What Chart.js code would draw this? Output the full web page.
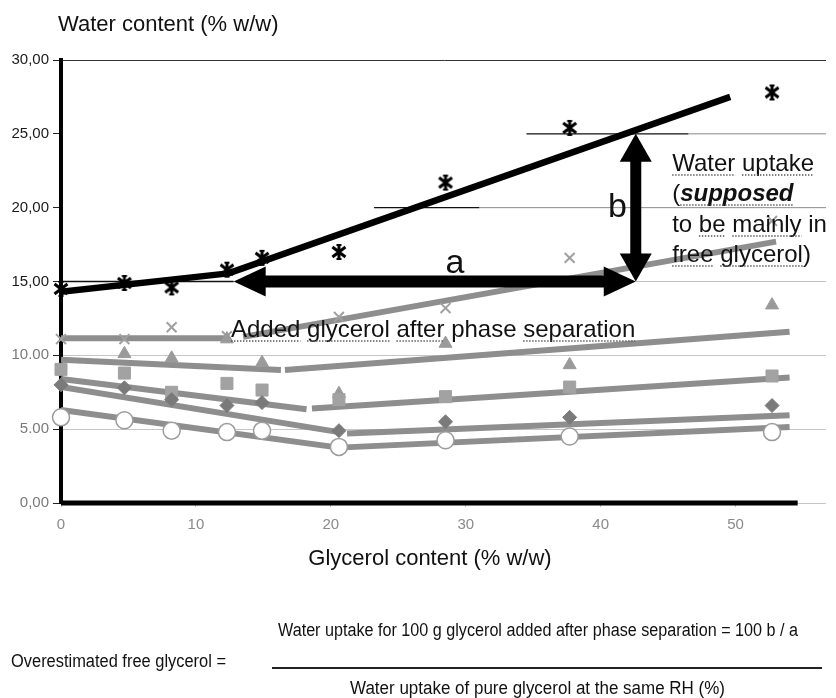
<!DOCTYPE html>
<html>
<head>
<meta charset="utf-8">
<script src="https://cdn.jsdelivr.net/npm/chart.js@4/dist/chart.umd.min.js"></script>
<style>
  html, body { margin: 0; padding: 0; background: #fff; }
  #wrap { position: relative; width: 836px; height: 698px; }
</style>
</head>
<body>
<div id="wrap"><canvas id="chart"></canvas></div>
<script>
// Glycerol content of the films (% w/w), shared by every measured series
const glycerol = [0, 4.7, 8.2, 12.3, 14.9, 20.6, 28.5, 37.7, 52.7];

// Water content (% w/w) measured at each humidity level
const waterAsterisk = [14.5, 14.9, 14.6, 15.8, 16.6, 17.0, 21.7, 25.4, 27.8];
const waterCross    = [11.1, 11.1, 11.9, 11.3, null, 12.6, 13.2, 16.6, 19.1];
const waterTriangle = [null, 10.1, 9.8, 11.1, 9.5, 7.4, 10.8, 9.35, 13.4];
const waterSquare   = [9.05, 8.8, 7.5, 8.1, 7.65, 7.0, 7.2, 7.85, 8.6];
const waterDiamond  = [8.0, 7.8, 7.0, 6.6, 6.8, 4.9, 5.5, 5.8, 6.6];
const waterCircle   = [5.8, 5.6, 4.9, 4.8, 4.9, 3.8, 4.25, 4.5, 4.8];

// Linear trends before / after phase separation, as [glycerol, water] pairs
const trendAsterisk = [[0, 14.3], [12.4, 15.55], [49.6, 27.5]];
const trendCrossA   = [[0, 11.15], [12.3, 11.15]];
const trendCrossB   = [[13.5, 11.25], [53.0, 17.7]];
const trendTriA     = [[0, 9.7], [16.3, 9.0]];
const trendTriB     = [[16.6, 9.0], [54.0, 11.6]];
const trendSquareA  = [[0, 8.4], [18.2, 6.35]];
const trendSquareB  = [[18.6, 6.4], [54.0, 8.5]];
const trendDiamondA = [[0, 7.85], [20.6, 4.8]];
const trendDiamondB = [[21.2, 4.7], [54.0, 5.95]];
const trendCircle   = [[0, 6.3], [20.6, 3.75], [54.0, 5.15]];

// Reading guides at constant water content
const guide25Dark  = [[34.5, 25], [46.5, 25]];
const guide25Light = [[46.5, 25], [56.7, 25]];
const guide20Dark  = [[23.2, 20], [31.0, 20]];
const guide20Light = [[31.0, 20], [56.7, 20]];
const guide15Dark  = [[0, 15], [12.8, 15]];
const guide15Light = [[42.6, 15], [56.7, 15]];
const baseLine     = [[0, 0], [54.6, 0]];

// "a": glycerol added after phase separation; "b": corresponding water uptake
const arrowAX = [12.8, 42.6];
const arrowAY = 15;
const arrowBX = 42.6;
const arrowBY = [15, 25];

// Axis ticks
const xTicks = [0, 10, 20, 30, 40, 50];
const yTicks = [0, 5, 10, 15, 20, 25, 30];
const yTickLabels = ['0,00', '5.00', '10.00', '15,00', '20,00', '25,00', '30,00'];
const X_MAX = 56.7;

const SANS = '"Liberation Sans", Arial, Helvetica, sans-serif';

function pts(xs, ys) {
  return xs.map((x, i) => ({ x, y: ys[i] })).filter(p => p.y !== null);
}
function seg(pairs) {
  return pairs.map(([x, y]) => ({ x, y }));
}
function lineSet(pairs, color, width, order, extra) {
  return Object.assign({
    type: 'line', data: seg(pairs), borderColor: color, borderWidth: width,
    pointRadius: 0, pointHoverRadius: 0, fill: false, tension: 0, order,
    borderCapStyle: 'butt', borderJoinStyle: 'round'
  }, extra || {});
}
function markerSet(ys, style, radius, bg, border, bw, order) {
  return {
    type: 'scatter', data: pts(glycerol, ys), pointStyle: style,
    pointRadius: radius, pointHoverRadius: radius, backgroundColor: bg,
    borderColor: border, borderWidth: bw, showLine: false, order, clip: false
  };
}

// Asterisk marker: X with a vertical bar and short caps
function makeAsterisk() {
  const c = document.createElement('canvas');
  c.width = 18; c.height = 18;
  const g = c.getContext('2d');
  g.strokeStyle = '#000';
  g.lineWidth = 3;
  g.beginPath();
  g.moveTo(2.5, 4); g.lineTo(15.5, 14);
  g.moveTo(15.5, 4); g.lineTo(2.5, 14);
  g.moveTo(9, 1.5); g.lineTo(9, 16.5);
  g.stroke();
  g.lineWidth = 2;
  g.beginPath();
  g.moveTo(6.5, 2); g.lineTo(11.5, 2);
  g.moveTo(6.5, 16); g.lineTo(11.5, 16);
  g.stroke();
  return c;
}

const TREND = '#8e8e8e';

const datasets = [
  // markers of the upper series (top layer)
  markerSet(waterAsterisk, makeAsterisk(), 9, '#000', '#000', 0, 1),
  lineSet(trendAsterisk, '#000', 6.5, 2),
  // measured points
  markerSet(waterCircle, 'circle', 8.5, '#ffffff', '#9c9c9c', 1.5, 3),
  markerSet(waterDiamond, 'rectRot', 7, '#7a7a7a', '#7a7a7a', 1, 4),
  markerSet(waterSquare, 'rect', 8.5, '#a2a2a2', '#a2a2a2', 1, 5),
  markerSet(waterTriangle, 'triangle', 7.5, '#9a9a9a', '#9a9a9a', 1, 6),
  markerSet(waterCross, 'crossRot', 7, '#a0a0a0', '#a0a0a0', 2, 7),
  // trend lines
  lineSet(trendCircle, TREND, 6, 10),
  lineSet(trendDiamondA, TREND, 6, 10),
  lineSet(trendDiamondB, TREND, 6, 10),
  lineSet(trendSquareA, TREND, 6, 10),
  lineSet(trendSquareB, TREND, 6, 10),
  lineSet(trendTriA, TREND, 6, 10),
  lineSet(trendTriB, TREND, 6, 10),
  lineSet(trendCrossA, TREND, 6, 10),
  lineSet(trendCrossB, TREND, 6, 10),
  // guides and axis base line
  lineSet(baseLine, '#000', 5, 20, { clip: false }),
  lineSet(guide25Dark, '#111', 1.3, 21),
  lineSet(guide25Light, '#8a8a8a', 1, 21),
  lineSet(guide20Dark, '#111', 1.3, 21),
  lineSet(guide20Light, '#8a8a8a', 1, 21),
  lineSet(guide15Dark, '#111', 1.3, 21),
  lineSet(guide15Light, '#c2c2c2', 1, 21)
];

function doubleArrow(ctx, x1, y1, x2, y2, shaft, headLen, headHalf) {
  const ang = Math.atan2(y2 - y1, x2 - x1);
  const len = Math.hypot(x2 - x1, y2 - y1);
  ctx.save();
  ctx.translate(x1, y1);
  ctx.rotate(ang);
  ctx.fillStyle = '#000';
  ctx.fillRect(headLen - 1, -shaft / 2, len - 2 * headLen + 2, shaft);
  ctx.beginPath();
  ctx.moveTo(0, 0); ctx.lineTo(headLen, -headHalf); ctx.lineTo(headLen, headHalf);
  ctx.closePath(); ctx.fill();
  ctx.beginPath();
  ctx.moveTo(len, 0); ctx.lineTo(len - headLen, -headHalf); ctx.lineTo(len - headLen, headHalf);
  ctx.closePath(); ctx.fill();
  ctx.restore();
}

function dotted(ctx, x1, x2, y) {
  ctx.save();
  ctx.strokeStyle = '#555';
  ctx.lineWidth = 1.4;
  ctx.setLineDash([1.4, 1.6]);
  ctx.beginPath();
  ctx.moveTo(x1, y); ctx.lineTo(x2, y);
  ctx.stroke();
  ctx.restore();
}

// Draws a line of text pieces; pieces flagged u get a dotted underline
function richLine(ctx, x, yBase, parts, baseFont) {
  let cx = x;
  ctx.textBaseline = 'alphabetic';
  ctx.textAlign = 'left';
  for (const p of parts) {
    ctx.font = p.font || baseFont;
    ctx.fillStyle = '#111';
    ctx.fillText(p.t, cx, yBase);
    const w = ctx.measureText(p.t).width;
    if (p.u) dotted(ctx, cx, cx + w, yBase + 4);
    cx += w;
  }
}

const annotationPlugin = {
  id: 'annotationPlugin',
  afterDatasetsDraw(chart) {
    const { ctx, scales: { x, y } } = chart;
    ctx.save();
    doubleArrow(ctx,
      x.getPixelForValue(arrowAX[0]), y.getPixelForValue(arrowAY),
      x.getPixelForValue(arrowAX[1]), y.getPixelForValue(arrowAY), 12, 32, 15);
    doubleArrow(ctx,
      x.getPixelForValue(arrowBX), y.getPixelForValue(arrowBY[1]),
      x.getPixelForValue(arrowBX), y.getPixelForValue(arrowBY[0]), 11, 28, 16);

    ctx.fillStyle = '#111';
    ctx.textAlign = 'center';
    ctx.textBaseline = 'alphabetic';
    ctx.font = '34px ' + SANS;
    ctx.fillText('a', x.getPixelForValue(29.2), y.getPixelForValue(15.57));
    ctx.fillText('b', x.getPixelForValue(41.25), y.getPixelForValue(19.36));

    const f24 = '24px ' + SANS;
    const fBI = 'italic bold 24px ' + SANS;
    richLine(ctx, x.getPixelForValue(12.6), y.getPixelForValue(11.24), [
      { t: 'Added', u: true }, { t: ' ' }, { t: 'glycerol', u: true }, { t: ' ' },
      { t: 'after', u: true }, { t: ' phase ' }, { t: 'separation', u: true }
    ], f24);

    const lx = x.getPixelForValue(45.3);
    richLine(ctx, lx, y.getPixelForValue(22.48), [
      { t: 'Water', u: true }, { t: ' ' }, { t: 'uptake', u: true }
    ], f24);
    richLine(ctx, lx, y.getPixelForValue(20.45), [
      { t: '(' }, { t: 'supposed', u: true, font: fBI }
    ], f24);
    richLine(ctx, lx, y.getPixelForValue(18.35), [
      { t: 'to ' }, { t: 'be', u: true }, { t: ' ' }, { t: 'mainly', u: true }, { t: ' in' }
    ], f24);
    richLine(ctx, lx, y.getPixelForValue(16.32), [
      { t: 'free', u: true }, { t: ' ' }, { t: 'glycerol', u: true }, { t: ')' }
    ], f24);
    ctx.restore();
  },
  afterDraw(chart) {
    const { ctx } = chart;
    ctx.save();
    ctx.fillStyle = '#111';
    ctx.textBaseline = 'middle';
    ctx.textAlign = 'left';
    ctx.font = '22px ' + SANS;
    ctx.fillText('Water content (% w/w)', 58, 25);
    ctx.textAlign = 'center';
    ctx.fillText('Glycerol content (% w/w)', 430, 559);

    // condensed equation text underneath the chart
    ctx.font = '18px ' + SANS;
    ctx.textAlign = 'left';
    ctx.fillText('Water uptake for 100 g glycerol added after phase separation = 100 b / a', 278, 631, 520);
    ctx.fillText('Overestimated free glycerol =', 11, 662, 215);
    ctx.fillText('Water uptake of pure glycerol at the same RH (%)', 350, 689, 375);
    ctx.strokeStyle = '#222';
    ctx.lineWidth = 2;
    ctx.beginPath();
    ctx.moveTo(272, 668); ctx.lineTo(822, 668);
    ctx.stroke();
    ctx.restore();
  }
};

new Chart(document.getElementById('chart'), {
  type: 'scatter',
  data: { datasets },
  options: {
    responsive: true,
    maintainAspectRatio: false,
    animation: false,
    events: [],
    layout: { padding: { top: 60, right: 4, left: 0, bottom: 0 } },
    plugins: { legend: { display: false }, tooltip: { enabled: false } },
    scales: {
      x: {
        type: 'linear', min: 0, max: X_MAX,
        afterBuildTicks: s => { s.ticks = xTicks.map(v => ({ value: v })); },
        afterFit: s => { s.height = 195; },
        border: { display: false },
        grid: { drawOnChartArea: false, drawTicks: true, tickLength: 4, tickColor: '#c4c4c4' },
        ticks: {
          color: '#8a8a8a', padding: 9, maxRotation: 0, autoSkip: false,
          font: { family: SANS, size: 15 }
        }
      },
      y: {
        type: 'linear', min: 0, max: 30,
        afterBuildTicks: s => { s.ticks = yTicks.map(v => ({ value: v })); },
        afterFit: s => { s.width = 61; },
        border: { display: true, color: '#000', width: 4 },
        grid: {
          color: c => {
            const v = c.tick ? c.tick.value : 0;
            if (v === 30) return '#333333';
            if (v === 10 || v === 5 || v === 0) return '#c6c6c6';
            return 'rgba(0,0,0,0)';
          },
          lineWidth: 1, drawTicks: true, tickLength: 8, tickColor: '#222'
        },
        ticks: {
          callback: v => yTickLabels[yTicks.indexOf(v)],
          color: c => (c.tick && c.tick.value >= 15) ? '#1a1a1a' : '#7a7a7a',
          font: { family: SANS, size: 15 }, padding: 4
        }
      }
    }
  },
  plugins: [annotationPlugin]
});
</script>
</body>
</html>
